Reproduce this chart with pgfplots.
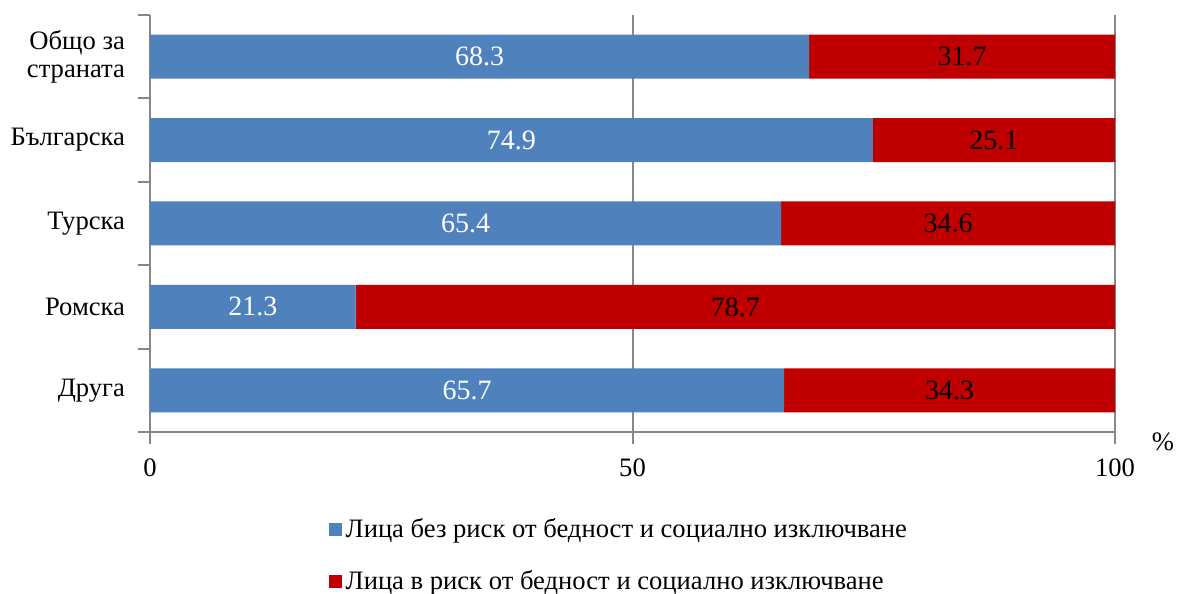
\documentclass[border=0pt]{standalone}
\usepackage{fontspec}
\setmainfont{Liberation Serif}
\usepackage{pgfplots}
\pgfplotsset{compat=1.18}
\definecolor{barblue}{HTML}{4F81BD}
\definecolor{barred}{HTML}{C00000}
\definecolor{axisgray}{HTML}{878787}

\begin{document}
\begin{tikzpicture}[font=\fontsize{13.3bp}{14bp}\selectfont]
\useasboundingbox (-75bp,-81bp) rectangle (515.5bp,216bp);
\begin{axis}[
  at={(0,0)}, anchor=south west,
  scale only axis, width=482.5bp, height=208.5bp,
  xbar stacked, bar width=22bp,
  xmin=0, xmax=100, ymin=-0.5, ymax=4.5,
  axis x line*=bottom, axis y line*=left,
  axis line style={axisgray, line width=1pt},
  tick align=outside, major tick length=6bp,
  tick style={axisgray, line width=1pt},
  xtick={0,50,100},
  xmajorgrids, major grid style={axisgray, line width=1pt},
  ytick={-0.5,0.5,1.5,2.5,3.5,4.5}, yticklabels={},
  extra y ticks={0,1,2,3,4},
  extra y tick labels={Друга,Ромска,Турска,Българска,{Общо за\\страната}},
  extra y tick style={major tick length=0pt, grid=none,
    yticklabel style={align=right, xshift=-9bp}},
  /pgf/number format/assume math mode=true,
  xticklabel style={yshift=-4bp},
  nodes near coords,
  nodes near coords style={font=\fontsize{14bp}{16bp}\selectfont},
  legend style={at={(0.487,-0.188)}, anchor=north, draw=none,
    row sep=11bp, cells={anchor=west},
    font=\fontsize{13.3bp}{16bp}\selectfont},
  legend image code/.code={\fill[#1] (0bp,-3.2bp) rectangle (6.4bp,3.2bp);},
]
\addplot[fill=barblue, draw=none, every node near coord/.append style={white}]
  coordinates {(65.7,0) (21.3,1) (65.4,2) (74.9,3) (68.3,4)};
\addlegendentry{Лица без риск от бедност и социално изключване}
\addplot[fill=barred, draw=none, every node near coord/.append style={black}]
  coordinates {(34.3,0) (78.7,1) (34.6,2) (25.1,3) (31.7,4)};
\addlegendentry{Лица в риск от бедност и социално изключване}
\end{axis}
\node at (506.5bp,-5bp) {\%};
\end{tikzpicture}
\end{document}
